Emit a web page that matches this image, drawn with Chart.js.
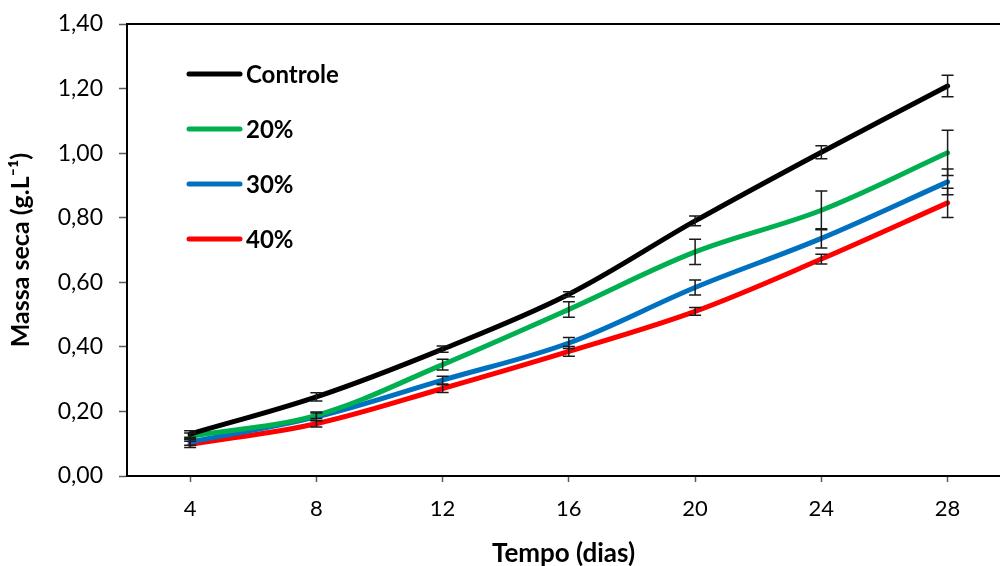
<!DOCTYPE html>
<html>
<head>
<meta charset="utf-8">
<script src="https://cdn.jsdelivr.net/npm/chart.js@4/dist/chart.umd.min.js"></script>
<style>
html,body{margin:0;padding:0;background:#fff;overflow:hidden;}
#wrap{width:1000px;height:566px;position:relative;}
</style>
</head>
<body>
<div id="wrap"><canvas id="c" width="1000" height="566"></canvas></div>
<script>
const days = [4, 8, 12, 16, 20, 24, 28];
const seriesNames = ['Controle', '20%', '30%', '40%'];
const controle = [0.130, 0.245, 0.393, 0.563, 0.790, 1.003, 1.208];
const p20 = [0.123, 0.188, 0.345, 0.516, 0.694, 0.823, 1.001];
const p30 = [0.105, 0.183, 0.297, 0.412, 0.584, 0.736, 0.911];
const p40 = [0.098, 0.162, 0.271, 0.386, 0.510, 0.672, 0.846];
const controleErr = [0.010, 0.013, 0.010, 0.008, 0.015, 0.020, 0.033];
const p20Err = [0.010, 0.010, 0.017, 0.024, 0.039, 0.060, 0.070];
const p30Err = [0.010, 0.012, 0.012, 0.017, 0.023, 0.030, 0.040];
const p40Err = [0.010, 0.010, 0.012, 0.015, 0.012, 0.015, 0.045];
const yTicks = [0, 0.2, 0.4, 0.6, 0.8, 1.0, 1.2, 1.4];
const colors = ['#000000', '#00B050', '#0070C0', '#FF0000'];

const values = [controle, p20, p30, p40];
const errors = [controleErr, p20Err, p30Err, p40Err];

const FONT = "Lato, 'Open Sans', sans-serif";

const datasets = values.map((arr, i) => ({
  label: seriesNames[i],
  data: days.map((d, j) => ({x: d, y: arr[j]})),
  errs: errors[i],
  borderColor: colors[i],
  backgroundColor: colors[i],
  borderWidth: 5,
  pointRadius: 0,
  tension: 0.35,
  fill: false,
  borderCapStyle: 'round'
}));

const errorBars = {
  id: 'errorBars',
  afterDatasetsDraw(chart) {
    const ctx = chart.ctx;
    const xs = chart.scales.x, ys = chart.scales.y;
    ctx.save();
    ctx.strokeStyle = '#1a1a1a';
    ctx.lineWidth = 1.5;
    chart.data.datasets.forEach(ds => {
      ds.data.forEach((p, j) => {
        const e = ds.errs[j];
        const x = xs.getPixelForValue(p.x);
        const y1 = ys.getPixelForValue(p.y + e);
        const y2 = ys.getPixelForValue(p.y - e);
        ctx.beginPath();
        ctx.moveTo(x, y1); ctx.lineTo(x, y2);
        ctx.moveTo(x - 6, y1); ctx.lineTo(x + 6, y1);
        ctx.moveTo(x - 6, y2); ctx.lineTo(x + 6, y2);
        ctx.stroke();
      });
    });
    ctx.restore();
  }
};

const frameAndLegend = {
  id: 'frameAndLegend',
  afterDraw(chart) {
    const ctx = chart.ctx;
    const a = chart.chartArea;
    ctx.save();
    ctx.strokeStyle = '#000';
    ctx.lineWidth = 2;
    ctx.beginPath();
    ctx.moveTo(a.left, a.top); ctx.lineTo(a.right, a.top);
    ctx.stroke();
    // legend
    ctx.font = "bold 24px " + FONT;
    ctx.textBaseline = 'middle';
    ctx.textAlign = 'left';
    chart.data.datasets.forEach((ds, i) => {
      const y = 74 + i * 55;
      ctx.strokeStyle = ds.borderColor;
      ctx.lineWidth = 5;
      ctx.lineCap = 'round';
      ctx.beginPath();
      ctx.moveTo(189, y); ctx.lineTo(240, y);
      ctx.stroke();
      ctx.fillStyle = '#000';
      ctx.fillText(ds.label, 246, y + 1);
    });
    ctx.restore();
  }
};

new Chart(document.getElementById('c'), {
  type: 'line',
  data: { datasets },
  options: {
    responsive: false,
    animation: false,
    layout: { padding: { top: 24, right: 0, left: 0, bottom: 0 } },
    plugins: { legend: { display: false }, tooltip: { enabled: false } },
    scales: {
      x: {
        type: 'linear',
        min: 2,
        max: 29.66,
        afterBuildTicks: s => { s.ticks = days.map(v => ({ value: v })); },
        afterFit: s => { s.height = 90; s.paddingLeft = 0; s.paddingRight = 0; },
        grid: { drawOnChartArea: false, drawTicks: true, tickLength: 6, tickWidth: 1.5, tickColor: '#595959' },
        border: { display: true, color: '#000', width: 2 },
        ticks: { color: '#000', font: { family: FONT, size: 22 }, padding: 14, maxRotation: 0, autoSkip: false },
        title: { display: true, text: 'Tempo (dias)', color: '#000', font: { family: FONT, size: 26, weight: 'bold' }, padding: { top: 0, bottom: -3 } }
      },
      y: {
        min: 0,
        max: 1.4,
        afterBuildTicks: s => { s.ticks = yTicks.map(v => ({ value: v })); },
        afterFit: s => { s.width = 127; s.paddingTop = 0; s.paddingBottom = 0; },
        grid: { drawOnChartArea: false, drawTicks: true, tickLength: 8, tickWidth: 1.5, tickColor: '#595959' },
        border: { display: true, color: '#000', width: 2 },
        ticks: {
          color: '#000', font: { family: FONT, size: 23 }, padding: 16,
          callback: v => Number(v).toFixed(2).replace('.', ',')
        },
        title: { display: true, text: 'Massa seca (g.L⁻¹)', color: '#000', font: { family: FONT, size: 25, weight: 'bold' }, padding: { top: 6, bottom: 0 } }
      }
    }
  },
  plugins: [errorBars, frameAndLegend]
});
</script>
</body>
</html>
